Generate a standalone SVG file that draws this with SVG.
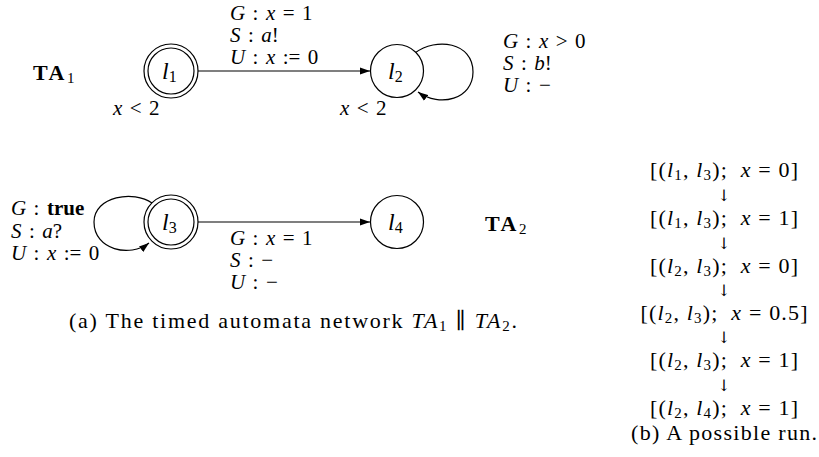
<svg xmlns="http://www.w3.org/2000/svg" width="819" height="457" viewBox="0 0 819 457">
<defs>
<style>
text { font-family: "Liberation Serif", "DejaVu Serif", serif; font-size: 22px; fill: #000; }
.i { font-style: italic; }
.b { font-weight: bold; }
.m { font-size: 21px; word-spacing: 2.2px; }
.tb { font-weight: bold; letter-spacing: 2.5px; }
.st { fill: #fff; stroke: #000; stroke-width: 1.2; }
.e { fill: none; stroke: #000; stroke-width: 1.2; }
.s { font-size: 15px; }
.n { font-size: 24px; }
.ns { font-size: 16px; }
.ar { font-family: "DejaVu Serif", serif; font-size: 16px; }
</style>
<marker id="ah" markerUnits="userSpaceOnUse" markerWidth="10" markerHeight="8" refX="10" refY="4" orient="auto">
<path d="M0,0.5 L10,4 L0,7.5 z" fill="#000"/>
</marker>
</defs>
<rect width="819" height="457" fill="#fff"/>

<g id="edges">
<line class="e" x1="198" y1="71" x2="370" y2="71" marker-end="url(#ah)"/>
<path class="e" d="M415,53 C436,37 473,42 473,72 C473,99 440,108 418,92" marker-end="url(#ah)"/>
<line class="e" x1="198" y1="222" x2="370" y2="222" marker-end="url(#ah)"/>
<path class="e" d="M152,203 C134,190 94,196 94,222 C94,250 130,258 149,243" marker-end="url(#ah)"/>
</g>

<g id="l1">
<circle class="st" cx="171" cy="71" r="27"/>
<circle class="e" cx="171" cy="71" r="23"/>
<text class="n" x="162" y="79"><tspan class="i">l</tspan><tspan class="ns" dy="3">1</tspan></text>
</g>
<g id="l2">
<circle class="st" cx="397" cy="71" r="26.5"/>
<text class="n" x="388" y="79"><tspan class="i">l</tspan><tspan class="ns" dy="3">2</tspan></text>
</g>
<g id="l3">
<circle class="st" cx="171" cy="222" r="27"/>
<circle class="e" cx="171" cy="222" r="23"/>
<text class="n" x="162" y="230"><tspan class="i">l</tspan><tspan class="ns" dy="3">3</tspan></text>
</g>
<g id="l4">
<circle class="st" cx="397" cy="222" r="26.5"/>
<text class="n" x="388" y="230"><tspan class="i">l</tspan><tspan class="ns" dy="3">4</tspan></text>
</g>

<g id="labels">
<text x="33" y="80"><tspan class="tb">TA</tspan><tspan class="s" dy="3">1</tspan></text>
<text x="485" y="231"><tspan class="tb">TA</tspan><tspan class="s" dy="3">2</tspan></text>

<text x="113" y="115" class="m"><tspan class="i">x</tspan> &lt; 2</text>
<text x="340" y="115" class="m"><tspan class="i">x</tspan> &lt; 2</text>

<text x="230" y="20" class="m"><tspan class="i">G</tspan> : <tspan class="i">x</tspan> = 1</text>
<text x="230" y="42" class="m"><tspan class="i">S</tspan> : <tspan class="i">a</tspan>!</text>
<text x="230" y="64" class="m"><tspan class="i">U</tspan> : <tspan class="i">x</tspan> := 0</text>

<text x="503" y="48" class="m"><tspan class="i">G</tspan> : <tspan class="i">x</tspan> &gt; 0</text>
<text x="503" y="70" class="m"><tspan class="i">S</tspan> : <tspan class="i">b</tspan>!</text>
<text x="503" y="92" class="m"><tspan class="i">U</tspan> : −</text>

<text x="11" y="215" class="m"><tspan class="i">G</tspan> : <tspan class="b">true</tspan></text>
<text x="11" y="238" class="m"><tspan class="i">S</tspan> : <tspan class="i">a</tspan>?</text>
<text x="11" y="260" class="m"><tspan class="i">U</tspan> : <tspan class="i">x</tspan> := 0</text>

<text x="230" y="245" class="m"><tspan class="i">G</tspan> : <tspan class="i">x</tspan> = 1</text>
<text x="230" y="267" class="m"><tspan class="i">S</tspan> : −</text>
<text x="230" y="289" class="m"><tspan class="i">U</tspan> : −</text>

<text x="69" y="328" textLength="448" lengthAdjust="spacing">(a) The timed automata network <tspan class="i">TA</tspan><tspan class="s" dy="3">1</tspan><tspan dy="-3"> ∥ </tspan><tspan class="i">TA</tspan><tspan class="s" dy="3">2</tspan><tspan dy="-3">.</tspan></text>
</g>

<g id="run" text-anchor="middle">
<text x="724" y="177" textLength="148" lengthAdjust="spacing">[(<tspan class="i">l</tspan><tspan class="s" dy="3">1</tspan><tspan dy="-3">, </tspan><tspan class="i">l</tspan><tspan class="s" dy="3">3</tspan><tspan dy="-3">); </tspan><tspan class="i" dx="6">x</tspan> = 0]</text>
<text class="ar" x="724" y="201">↓</text>
<text x="724" y="225" textLength="148" lengthAdjust="spacing">[(<tspan class="i">l</tspan><tspan class="s" dy="3">1</tspan><tspan dy="-3">, </tspan><tspan class="i">l</tspan><tspan class="s" dy="3">3</tspan><tspan dy="-3">); </tspan><tspan class="i" dx="6">x</tspan> = 1]</text>
<text class="ar" x="724" y="249">↓</text>
<text x="724" y="273" textLength="148" lengthAdjust="spacing">[(<tspan class="i">l</tspan><tspan class="s" dy="3">2</tspan><tspan dy="-3">, </tspan><tspan class="i">l</tspan><tspan class="s" dy="3">3</tspan><tspan dy="-3">); </tspan><tspan class="i" dx="6">x</tspan> = 0]</text>
<text class="ar" x="724" y="296">↓</text>
<text x="724" y="320" textLength="167" lengthAdjust="spacing">[(<tspan class="i">l</tspan><tspan class="s" dy="3">2</tspan><tspan dy="-3">, </tspan><tspan class="i">l</tspan><tspan class="s" dy="3">3</tspan><tspan dy="-3">); </tspan><tspan class="i" dx="6">x</tspan> = 0.5]</text>
<text class="ar" x="724" y="343">↓</text>
<text x="724" y="367" textLength="148" lengthAdjust="spacing">[(<tspan class="i">l</tspan><tspan class="s" dy="3">2</tspan><tspan dy="-3">, </tspan><tspan class="i">l</tspan><tspan class="s" dy="3">3</tspan><tspan dy="-3">); </tspan><tspan class="i" dx="6">x</tspan> = 1]</text>
<text class="ar" x="724" y="391">↓</text>
<text x="724" y="415" textLength="148" lengthAdjust="spacing">[(<tspan class="i">l</tspan><tspan class="s" dy="3">2</tspan><tspan dy="-3">, </tspan><tspan class="i">l</tspan><tspan class="s" dy="3">4</tspan><tspan dy="-3">); </tspan><tspan class="i" dx="6">x</tspan> = 1]</text>
<text x="724" y="440" textLength="186" lengthAdjust="spacing">(b) A possible run.</text>
</g>
</svg>
